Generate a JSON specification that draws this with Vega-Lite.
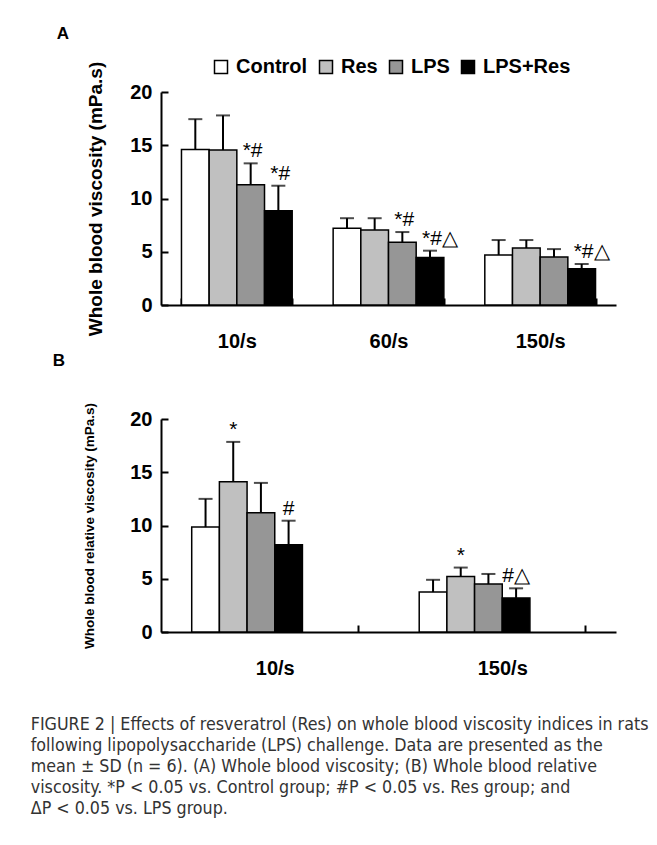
{
  "$schema": "https://vega.github.io/schema/vega-lite/v6.json",
  "padding": {"left": 30, "top": 25, "right": 5, "bottom": 5},
  "background": "white",
  "spacing": 1,
  "datasets": {
    "a": [
      {"rate": "10/s", "group": "Control", "mean": 14.6, "upper": 17.45, "sig": ""},
      {"rate": "10/s", "group": "Res", "mean": 14.55, "upper": 17.8, "sig": ""},
      {"rate": "10/s", "group": "LPS", "mean": 11.3, "upper": 13.3, "sig": "*#"},
      {"rate": "10/s", "group": "LPS+Res", "mean": 8.85, "upper": 11.2, "sig": "*#"},
      {"rate": "60/s", "group": "Control", "mean": 7.2, "upper": 8.15, "sig": ""},
      {"rate": "60/s", "group": "Res", "mean": 7.05, "upper": 8.15, "sig": ""},
      {"rate": "60/s", "group": "LPS", "mean": 5.9, "upper": 6.85, "sig": "*#"},
      {"rate": "60/s", "group": "LPS+Res", "mean": 4.45, "upper": 5.1, "sig": "*#△"},
      {"rate": "150/s", "group": "Control", "mean": 4.7, "upper": 6.1, "sig": ""},
      {"rate": "150/s", "group": "Res", "mean": 5.35, "upper": 6.1, "sig": ""},
      {"rate": "150/s", "group": "LPS", "mean": 4.5, "upper": 5.25, "sig": ""},
      {"rate": "150/s", "group": "LPS+Res", "mean": 3.4, "upper": 3.85, "sig": "*#△"}
    ],
    "b": [
      {"rate": "10/s", "group": "Control", "mean": 9.85, "upper": 12.5, "sig": ""},
      {"rate": "10/s", "group": "Res", "mean": 14.1, "upper": 17.85, "sig": "*"},
      {"rate": "10/s", "group": "LPS", "mean": 11.2, "upper": 14.0, "sig": ""},
      {"rate": "10/s", "group": "LPS+Res", "mean": 8.2, "upper": 10.45, "sig": "#"},
      {"rate": "150/s", "group": "Control", "mean": 3.75, "upper": 4.9, "sig": ""},
      {"rate": "150/s", "group": "Res", "mean": 5.2, "upper": 6.05, "sig": "*"},
      {"rate": "150/s", "group": "LPS", "mean": 4.5, "upper": 5.45, "sig": ""},
      {"rate": "150/s", "group": "LPS+Res", "mean": 3.2, "upper": 4.1, "sig": "#△"}
    ]
  },
  "config": {
    "font": "Liberation Sans",
    "view": {"stroke": null},
    "axis": {
      "domainColor": "black", "domainWidth": 2, "tickColor": "black", "tickWidth": 2,
      "labelColor": "black", "titleColor": "black", "grid": false,
      "labelFont": "Liberation Sans", "titleFont": "Liberation Sans",
      "labelFontWeight": "bold", "titleFontWeight": "bold"
    },
    "title": {"color": "black", "font": "Liberation Sans"}
  },
  "title": {
    "text": [
      "FIGURE 2 | Effects of resveratrol (Res) on whole blood viscosity indices in rats",
      "following lipopolysaccharide (LPS) challenge. Data are presented as the",
      "mean ± SD (n = 6). (A) Whole blood viscosity; (B) Whole blood relative",
      "viscosity. *P < 0.05 vs. Control group; #P < 0.05 vs. Res group; and",
      "ΔP < 0.05 vs. LPS group."
    ],
    "orient": "bottom", "anchor": "start", "frame": "bounds",
    "font": "'DejaVu Sans Condensed', 'Liberation Sans Narrow', Roboto, sans-serif", "fontSize": 17.7, "fontWeight": "normal",
    "lineHeight": 21, "color": "#333333", "offset": 38, "dx": -22
  },
  "vconcat": [
    {
      "width": 455, "height": 213,
      "data": {"name": "a"},
      "title": {"text": "A", "anchor": "start", "fontSize": 17, "fontWeight": "bold", "dx": -30, "offset": 18},
      "encoding": {
        "x": {"field": "rate", "type": "nominal", "sort": ["10/s", "60/s", "150/s"], "title": null,
          "scale": {"paddingInner": 0.27, "paddingOuter": 0.135},
          "axis": {"labelAngle": 0, "labelFontSize": 20, "labelPadding": 33, "tickBand": "extent", "tickSize": -7}},
        "xOffset": {"field": "group", "type": "nominal", "sort": ["Control", "Res", "LPS", "LPS+Res"]}
      },
      "layer": [
        {
          "mark": {"type": "bar", "stroke": "black", "strokeWidth": 1.5},
          "encoding": {
            "y": {"field": "mean", "type": "quantitative", "scale": {"domain": [0, 20]},
              "axis": {"values": [0, 5, 10, 15, 20], "tickSize": -7, "labelFontSize": 20, "labelPadding": 16,
                "title": "Whole blood viscosity (mPa.s)", "titleFontSize": 19, "titlePadding": 24}},
            "color": {"field": "group", "type": "nominal", "sort": ["Control", "Res", "LPS", "LPS+Res"],
              "scale": {"domain": ["Control", "Res", "LPS", "LPS+Res"], "range": ["#ffffff", "#c0c0c0", "#969696", "#000000"]},
              "legend": {"orient": "none", "legendX": 50, "legendY": -35, "direction": "horizontal", "title": null,
                "symbolType": "square", "symbolSize": 169, "symbolStrokeColor": "black", "symbolStrokeWidth": 1.5,
                "labelFontSize": 20, "labelFontWeight": "bold", "labelColor": "black", "labelFont": "Liberation Sans",
                "labelOffset": 5, "columnPadding": 8}}
          }
        },
        {
          "mark": {"type": "rule", "strokeWidth": 2, "color": "black"},
          "encoding": {"y": {"field": "mean", "type": "quantitative", "title": "Whole blood viscosity (mPa.s)"}, "y2": {"field": "upper"}}
        },
        {
          "mark": {"type": "tick", "orient": "horizontal", "color": "black", "thickness": 2, "size": 14},
          "encoding": {"y": {"field": "upper", "type": "quantitative", "title": "Whole blood viscosity (mPa.s)"}}
        },
        {
          "mark": {"type": "text", "align": "left", "baseline": "bottom", "dx": -8, "dy": -2, "fontSize": 21, "font": "Liberation Sans", "color": "black"},
          "encoding": {"y": {"field": "upper", "type": "quantitative", "title": "Whole blood viscosity (mPa.s)"}, "text": {"field": "sig"}}
        }
      ]
    },
    {
      "width": 455, "height": 213,
      "data": {"name": "b"},
      "title": {"text": "B", "anchor": "start", "fontSize": 17, "fontWeight": "bold", "dx": -30, "offset": 32},
      "encoding": {
        "x": {"field": "rate", "type": "nominal", "sort": ["10/s", "150/s"], "title": null,
          "scale": {"paddingInner": 0.27, "paddingOuter": 0.135},
          "axis": {"labelAngle": 0, "labelFontSize": 20, "labelPadding": 33, "tickBand": "extent", "tickSize": -7}},
        "xOffset": {"field": "group", "type": "nominal", "sort": ["Control", "Res", "LPS", "LPS+Res"]}
      },
      "layer": [
        {
          "mark": {"type": "bar", "stroke": "black", "strokeWidth": 1.5},
          "encoding": {
            "y": {"field": "mean", "type": "quantitative", "scale": {"domain": [0, 20]},
              "axis": {"values": [0, 5, 10, 15, 20], "tickSize": -7, "labelFontSize": 20, "labelPadding": 16,
                "title": "Whole blood relative viscosity (mPa.s)", "titleFontSize": 13.5, "titlePadding": 33}},
            "color": {"field": "group", "type": "nominal", "sort": ["Control", "Res", "LPS", "LPS+Res"],
              "scale": {"domain": ["Control", "Res", "LPS", "LPS+Res"], "range": ["#ffffff", "#c0c0c0", "#969696", "#000000"]},
              "legend": {"orient": "none", "legendX": 50, "legendY": -37, "direction": "horizontal", "title": null,
                "symbolType": "square", "symbolSize": 169, "symbolStrokeColor": "black", "symbolStrokeWidth": 1.5,
                "labelFontSize": 20, "labelFontWeight": "bold", "labelColor": "black", "labelFont": "Liberation Sans",
                "labelOffset": 5, "columnPadding": 8}}
          }
        },
        {
          "mark": {"type": "rule", "strokeWidth": 2, "color": "black"},
          "encoding": {"y": {"field": "mean", "type": "quantitative", "title": "Whole blood relative viscosity (mPa.s)"}, "y2": {"field": "upper"}}
        },
        {
          "mark": {"type": "tick", "orient": "horizontal", "color": "black", "thickness": 2, "size": 14},
          "encoding": {"y": {"field": "upper", "type": "quantitative", "title": "Whole blood relative viscosity (mPa.s)"}}
        },
        {
          "mark": {"type": "text", "align": "center", "baseline": "bottom", "dy": -2, "fontSize": 21, "font": "Liberation Sans", "color": "black"},
          "encoding": {"y": {"field": "upper", "type": "quantitative", "title": "Whole blood relative viscosity (mPa.s)"}, "text": {"field": "sig"}}
        }
      ]
    }
  ]
}
